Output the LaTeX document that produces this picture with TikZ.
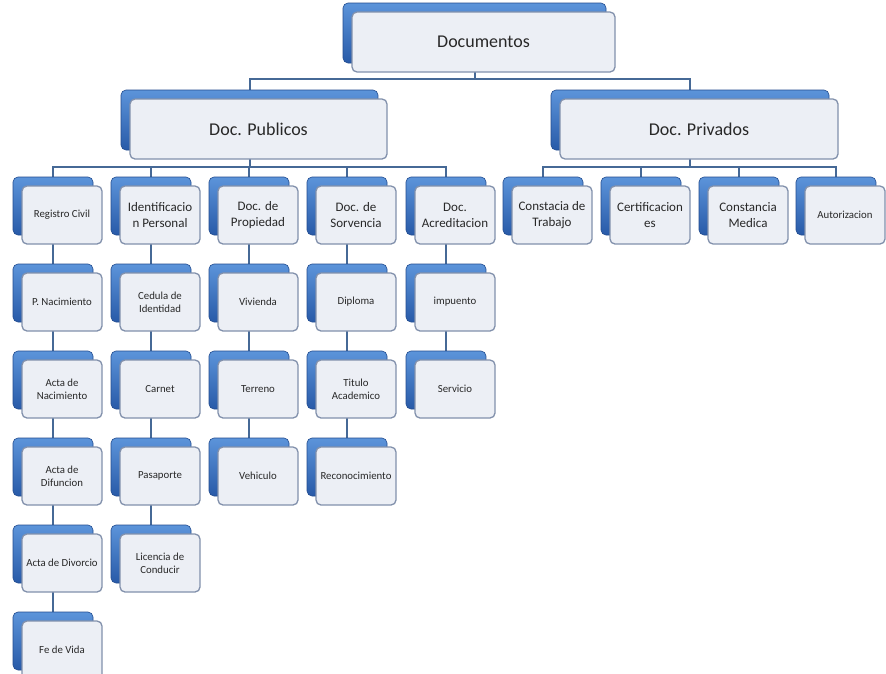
\documentclass[tikz,border=0pt]{standalone}
\usepackage{fontspec}
\setmainfont{Carlito}
\usetikzlibrary{shadows,backgrounds}

\definecolor{boxfill}{RGB}{236,239,245}
\definecolor{boxline}{RGB}{130,145,172}
\definecolor{backtop}{RGB}{92,148,218}
\definecolor{backbot}{RGB}{40,90,168}
\definecolor{linkcol}{RGB}{70,105,150}
\definecolor{txt}{RGB}{40,40,40}

\tikzset{
    card/.style={rectangle, rounded corners=5pt, draw=boxline, fill=boxfill, line width=1.3pt,
        text=txt, align=center, inner sep=0pt,
        general shadow={shadow xshift=-9pt, shadow yshift=9pt, top color=backtop,
            bottom color=backbot, draw=backbot!85!black, line width=0.6pt}},
    small card/.style={card, minimum width=80pt, minimum height=58pt, font=\fontsize{10.8}{13}\selectfont},
    mid card/.style={small card, font=\fontsize{13}{16}\selectfont},
    big card/.style={card, minimum height=60pt, font=\fontsize{18}{22}\selectfont},
    link/.style={draw=linkcol, line width=2pt},
}

\begin{document}
\begin{tikzpicture}[x=1pt, y=-1pt]
        \path [use as bounding box, clip] (0, 0) rectangle (886, 673);
        % top levels
        \node [big card, minimum width=263pt, name=doc] at (483.5, 42) {Documentos};
        \node [big card, minimum width=257pt, name=pub] at (258.5, 129) {Doc. Publicos};
        \node [big card, minimum width=278pt, name=priv] at (699, 129) {Doc. Privados};
        % publicos, first row
        \node [small card, name=pub_rc] at (62, 215) {Registro Civil};
        \node [mid card, name=pub_ip] at (160, 215) {Identificacio\\n Personal};
        \node [mid card, name=pub_dp] at (258, 215) {Doc. de\\Propiedad};
        \node [mid card, name=pub_ds] at (356, 215) {Doc. de\\Sorvencia};
        \node [mid card, name=pub_da] at (455, 215) {Doc.\\Acreditacion};
        % privados
        \node [mid card, name=priv_ct] at (552, 215) {Constacia de\\Trabajo};
        \node [mid card, name=priv_cf] at (650, 215) {Certificacion\\es};
        \node [mid card, name=priv_cm] at (748, 215) {Constancia\\Medica};
        \node [small card, name=priv_au] at (845, 215) {Autorizacion};
        % registro civil
        \node [small card, name=rc_pn] at (62, 302) {P. Nacimiento};
        \node [small card, name=rc_an] at (62, 389) {Acta de\\Nacimiento};
        \node [small card, name=rc_df] at (62, 476) {Acta de\\Difuncion};
        \node [small card, name=rc_dv] at (62, 563) {Acta de Divorcio};
        \node [small card, name=rc_fv] at (62, 650) {Fe de Vida};
        % identificacion
        \node [small card, name=ip_ci] at (160, 302) {Cedula de\\Identidad};
        \node [small card, name=ip_ca] at (160, 389) {Carnet};
        \node [small card, name=ip_pa] at (160, 476) {Pasaporte};
        \node [small card, name=ip_lc] at (160, 563) {Licencia de\\Conducir};
        % propiedad
        \node [small card, name=dp_vi] at (258, 302) {Vivienda};
        \node [small card, name=dp_te] at (258, 389) {Terreno};
        \node [small card, name=dp_ve] at (258, 476) {Vehiculo};
        % sorvencia
        \node [small card, name=ds_di] at (356, 302) {Diploma};
        \node [small card, name=ds_ta] at (356, 389) {Titulo\\Academico};
        \node [small card, name=ds_re] at (356, 476) {Reconocimiento};
        % acreditacion
        \node [small card, name=da_im] at (455, 302) {impuento};
        \node [small card, name=da_se] at (455, 389) {Servicio};
        \begin{scope}[on background layer]
            \fill [white] (0, 0) rectangle (886, 673);
            \foreach \kid in {pub, priv}
                \draw [link] ([xshift=-9pt]doc.center) -- ([xshift=-9pt]doc.center |- 0,79) -| ([xshift=-9pt]\kid.center);
            \foreach \kid in {pub_rc, pub_ip, pub_dp, pub_ds, pub_da}
                \draw [link] ([xshift=-9pt]pub.center) -- ([xshift=-9pt]pub.center |- 0,167) -| ([xshift=-9pt]\kid.center);
            \foreach \kid in {priv_ct, priv_cf, priv_cm, priv_au}
                \draw [link] ([xshift=-9pt]priv.center) -- ([xshift=-9pt]priv.center |- 0,167) -| ([xshift=-9pt]\kid.center);
            \draw [link] ([xshift=-9pt]pub_rc.center) -- ([xshift=-9pt]rc_fv.center);
            \draw [link] ([xshift=-9pt]pub_ip.center) -- ([xshift=-9pt]ip_lc.center);
            \draw [link] ([xshift=-9pt]pub_dp.center) -- ([xshift=-9pt]dp_ve.center);
            \draw [link] ([xshift=-9pt]pub_ds.center) -- ([xshift=-9pt]ds_re.center);
            \draw [link] ([xshift=-9pt]pub_da.center) -- ([xshift=-9pt]da_se.center);
        \end{scope}
    \end{tikzpicture}
\end{document}
